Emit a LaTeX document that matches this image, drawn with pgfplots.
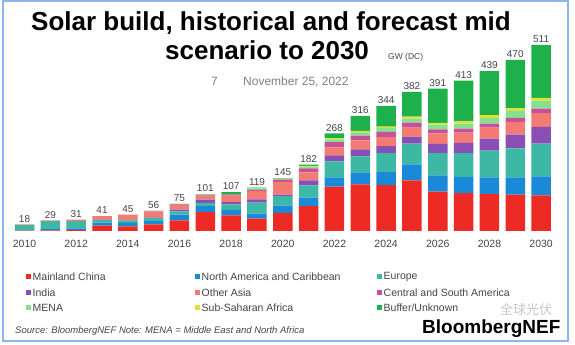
\documentclass[border=0pt]{standalone}
\usepackage{pgfplots}
\pgfplotsset{compat=1.18}
\usepackage{pgfplotstable}
\usepackage{fontspec}
\setmainfont{Liberation Sans}
\newfontfamily\cjk{Noto Sans CJK SC}
\definecolor{cChina}{HTML}{EE2A24}
\definecolor{cNA}{HTML}{1A8AD8}
\definecolor{cEU}{HTML}{3CB8A4}
\definecolor{cIndia}{HTML}{8A4FB5}
\definecolor{cOAsia}{HTML}{F47B73}
\definecolor{cCSA}{HTML}{C8509A}
\definecolor{cMENA}{HTML}{86E08E}
\definecolor{cSSA}{HTML}{E2E030}
\definecolor{cBuf}{HTML}{1DB04B}
\definecolor{frameblue}{HTML}{8DB6EA}
\definecolor{txt}{HTML}{444444}
\pgfplotstableread{
year china na eu india oasia csa mena ssa buf total
2010 1 1 14 0 2 0 0 0 0 18
2011 2 3 22 0 2 0 0 0 0 29
2012 3 4 20 0 4 0 0 0 0 31
2013 15 8 7 1 10 0 0 0 0 41
2014 13 9 7 1 15 0 0 0 0 45
2015 18 9 9 1 17 1 1 0 0 56
2016 29 16 9 5 12 2 2 0 0 75
2017 52 16 9 9 11 2 2 0 0 101
2018 43 15 15 6 18 3 0 0 7 107
2019 34 14 30 9 23 3 4 0 2 119
2020 50 20 26 4 35 6 2 1 1 145
2021 68 24 33 14 22 11 5 2 3 182
2022 122 25 44 17 22 14 8 3 13 268
2023 128 33 44 19 25 13 9 4 41 316
2024 126 36 52 19 25 14 11 4 57 344
2025 139 44 57 19 25 14 11 5 68 382
2026 108 45 61 25 29 11 13 5 94 391
2027 104 45 65 28 28 11 14 6 112 413
2028 102 45 74 33 30 11 16 7 121 439
2029 100 47 80 38 35 11 19 7 133 470
2030 98 52 90 46 38 12 22 8 145 511
}\solardata
\pgfplotsset{myaxis/.style={
  at={(11.6pt,114pt)}, anchor=south west,
  scale only axis, width=542.4pt, height=196.6pt,
  xmin=2009.5, xmax=2030.5, ymin=0, ymax=540,
  bar width=19.5pt,
  axis line style={draw=none}, tick style={draw=none},
  ytick=\empty,
  /pgf/number format/assume math mode=true,
  /pgf/number format/1000 sep={},
  clip=false}}
\begin{document}
\begin{tikzpicture}
\path[use as bounding box] (0pt,0pt) rectangle (575pt,345pt);
\draw[frameblue, line width=1.2pt] (3pt,4pt) rectangle (568pt,344pt);
\begin{axis}[myaxis, ybar stacked,
  xtick={2010,2012,...,2030},
  xticklabel style={font=\fontsize{10.5}{12}\selectfont, text=txt, yshift=-6pt}]
\addplot[fill=cChina, draw=none] table[x=year,y=china]{\solardata};
\addplot[fill=cNA, draw=none] table[x=year,y=na]{\solardata};
\addplot[fill=cEU, draw=none] table[x=year,y=eu]{\solardata};
\addplot[fill=cIndia, draw=none] table[x=year,y=india]{\solardata};
\addplot[fill=cOAsia, draw=none] table[x=year,y=oasia]{\solardata};
\addplot[fill=cCSA, draw=none] table[x=year,y=csa]{\solardata};
\addplot[fill=cMENA, draw=none] table[x=year,y=mena]{\solardata};
\addplot[fill=cSSA, draw=none] table[x=year,y=ssa]{\solardata};
\addplot[fill=cBuf, draw=none] table[x=year,y=buf]{\solardata};
\end{axis}
\begin{axis}[myaxis, ybar, xtick=\empty,
  nodes near coords,
  nodes near coords style={font=\fontsize{10}{11}\selectfont, text=txt, anchor=south, inner sep=2pt}]
\addplot[draw=none, fill=none] table[x=year, y=total]{\solardata};
\end{axis}
\begin{scope}[x=1pt,y=1pt]
% title
\node[anchor=base, font=\fontsize{26}{30}\bfseries\selectfont] at (271,314) {Solar build, historical and forecast mid};
\node[anchor=base west, inner sep=0pt, font=\fontsize{26}{30}\bfseries\selectfont] at (165,285) {scenario to 2030};
\node[anchor=base west, inner sep=0pt, font=\fontsize{8.5}{10}\selectfont, text=txt] at (388,285) {GW (DC)};
\node[anchor=base west, inner sep=0pt, font=\fontsize{12}{14}\selectfont, text=gray] at (211,259) {7};
\node[anchor=base west, inner sep=0pt, font=\fontsize{12}{14}\selectfont, text=gray] at (243,259) {November 25, 2022};
% legend
\def\legitem#1#2#3#4{%
  \fill[#3] (#1-2.5,#2-2.5) rectangle (#1+2.5,#2+2.5);
  \node[anchor=west, inner sep=0pt, font=\fontsize{10.5}{12}\selectfont, text=txt] at (#1+4.5,#2) {#4};}
\legitem{28}{68}{cChina}{Mainland China}
\legitem{197}{68}{cNA}{North America and Caribbean}
\legitem{379}{68}{cEU}{Europe}
\legitem{28}{52}{cIndia}{India}
\legitem{197}{52}{cOAsia}{Other Asia}
\legitem{379}{52}{cCSA}{Central and South America}
\legitem{28}{37}{cMENA}{MENA}
\legitem{197}{37}{cSSA}{Sub-Saharan Africa}
\legitem{379}{37}{cBuf}{Buffer/Unknown}
% source
\node[anchor=base west, inner sep=0pt, font=\fontsize{9.5}{11}\itshape\selectfont, text=txt] at (15,12) {Source: BloombergNEF Note: MENA = Middle East and North Africa};
\node[anchor=base west, inner sep=0pt, font=\fontsize{13}{15}\cjk\selectfont, text=gray!45] at (500,30) {全球光伏};
\node[anchor=base west, inner sep=0pt, font=\fontsize{19}{22}\bfseries\selectfont] at (422,12) {BloombergNEF};
\end{scope}
\end{tikzpicture}
\end{document}
